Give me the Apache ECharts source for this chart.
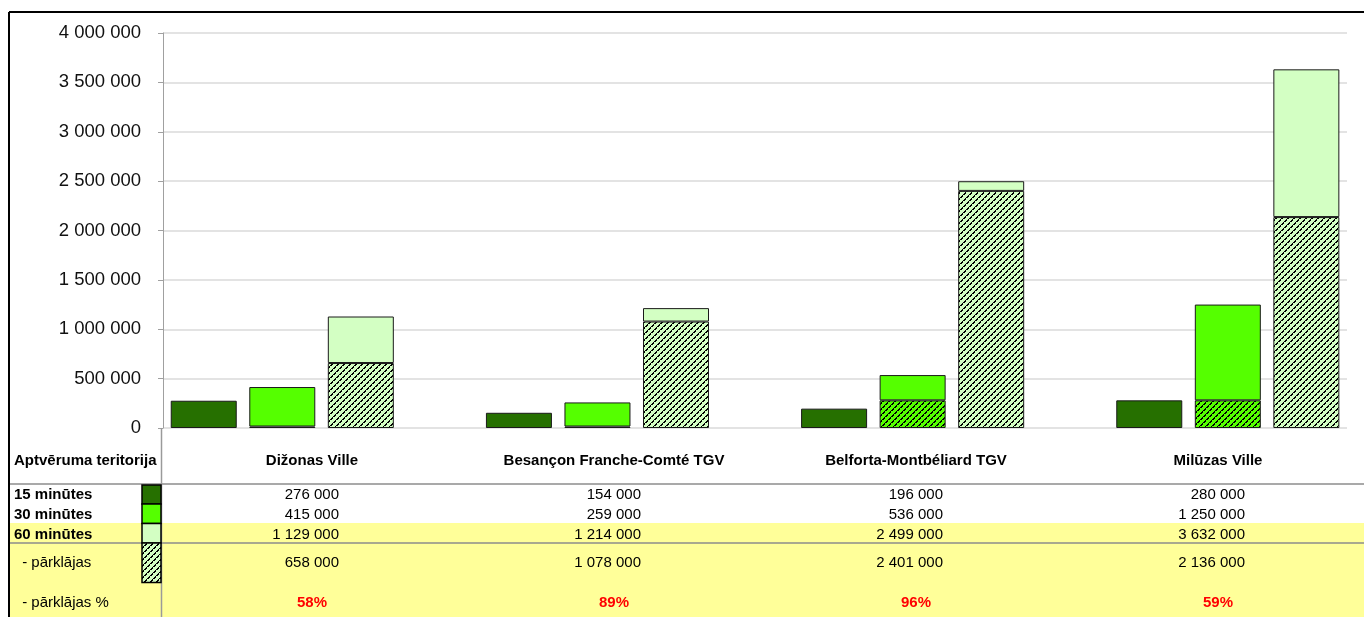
<!DOCTYPE html>
<html>
<head>
<meta charset="utf-8">
<script src="https://cdn.jsdelivr.net/npm/echarts@6/dist/echarts.min.js"></script>
<style>
  html, body { margin: 0; padding: 0; background: #fff; }
  #chart { width: 1364px; height: 617px; }
</style>
</head>
<body>
<div id="chart"></div>
<script>
// Catchment population per station
const categories = ['Dižonas Ville', 'Besançon Franche-Comté TGV', 'Belforta-Montbéliard TGV', 'Milūzas Ville'];
const min15 = [276000, 154000, 196000, 280000];
const min30 = [415000, 259000, 536000, 1250000];
const min60 = [1129000, 1214000, 2499000, 3632000];
const overlap60 = [658000, 1078000, 2401000, 2136000];
const overlap30 = [15000, 15000, 280000, 280000];
const rowLabels = ['15 minūtes', '30 minūtes', '60 minūtes', ' - pārklājas', ' - pārklājas %'];
const headerLabel = 'Aptvēruma teritorija';

const C15 = '#267000';
const C30 = '#55ff00';
const C60 = '#d3ffc3';
const FONT = '"Liberation Sans", Arial, sans-serif';

function fmt(n) {
  return String(n).replace(/\B(?=(\d{3})+(?!\d))/g, ' ');
}

// Diagonal dashed hatch tile over a base colour
function hatch(base) {
  const s = 6;
  const cv = document.createElement('canvas');
  cv.width = s; cv.height = s;
  const ctx = cv.getContext('2d');
  ctx.fillStyle = base;
  ctx.fillRect(0, 0, s, s);
  ctx.fillStyle = '#000';
  for (let i = 0; i < s; i++) {
    const y = s - 1 - i;
    ctx.fillRect(i, y, 1, 1);
    if (i % 3 !== 2) ctx.fillRect((i + 1) % s, y, 1, 1);
  }
  return { image: cv, repeat: 'repeat' };
}
const hatch30 = hatch(C30);
const hatch60 = hatch(C60);

const border = { borderColor: '#1a1a1a', borderWidth: 1 };

// Table under the plot
const colLeft = 161, colW = 302;
const rowY = [495, 515, 535, 563, 603];
const g = [];
g.push({ type: 'rect', shape: { x: 10, y: 523, width: 1354, height: 94 }, style: { fill: '#ffff99' }, z: 1 });
g.push({ type: 'line', shape: { x1: 10, y1: 484, x2: 1364, y2: 484 }, style: { stroke: '#8c8c8c', lineWidth: 1.5 }, z: 2 });
g.push({ type: 'line', shape: { x1: 10, y1: 543, x2: 1364, y2: 543 }, style: { stroke: '#8c8c8c', lineWidth: 1.5 }, z: 2 });
g.push({ type: 'line', shape: { x1: 161.5, y1: 428, x2: 161.5, y2: 617 }, style: { stroke: '#9a9a9a', lineWidth: 1.5 }, z: 2 });
// frame
g.push({ type: 'line', shape: { x1: 9, y1: 12, x2: 1364, y2: 12 }, style: { stroke: '#000', lineWidth: 2 }, z: 5 });
g.push({ type: 'line', shape: { x1: 9, y1: 12, x2: 9, y2: 617 }, style: { stroke: '#000', lineWidth: 2 }, z: 5 });

function txt(text, x, y, align, bold, color) {
  g.push({
    type: 'text', x: x, y: y, z: 6,
    style: {
      text: text, fill: color || '#000',
      font: (bold ? 'bold ' : '') + '15px ' + FONT,
      textAlign: align, textVerticalAlign: 'middle'
    }
  });
}
txt(headerLabel, 14, 461, 'left', true);
rowLabels.forEach(function (lab, r) {
  txt(lab, r < 3 ? 14 : 18, rowY[r], 'left', r < 3);
});
// legend swatches
const sw = [[C15, 485, 504], [C30, 504, 523.5], [C60, 523.5, 543], [hatch60, 543, 582.5]];
sw.forEach(function (s) {
  g.push({ type: 'rect', shape: { x: 142, y: s[1], width: 19, height: s[2] - s[1] },
    style: { fill: s[0], stroke: '#000', lineWidth: 1.5 }, z: 4 });
});
categories.forEach(function (cat, i) {
  const left = colLeft + colW * i;
  txt(cat, left + colW / 2, 461, 'center', true);
  const vals = [min15[i], min30[i], min60[i], overlap60[i]];
  vals.forEach(function (v, r) { txt(fmt(v), left + 178, rowY[r], 'right', false); });
  const pct = Math.round(overlap60[i] / min60[i] * 100) + '%';
  txt(pct, left + colW / 2, rowY[4], 'center', true, '#ff0000');
});

const chart = echarts.init(document.getElementById('chart'));
chart.setOption({
  animation: false,
  backgroundColor: '#fff',
  grid: [
    { left: 163, right: 17, top: 33, bottom: 189, outerBoundsMode: 'none' },
    { left: 124.7, width: 1260.7, top: 33, bottom: 189, outerBoundsMode: 'none', containLabel: false }
  ],
  xAxis: [
    { gridIndex: 0, type: 'category', data: categories, show: false },
    { gridIndex: 1, type: 'category', data: categories, show: false }
  ],
  yAxis: [
    {
      gridIndex: 0, type: 'value', min: 0, max: 4000000, interval: 500000,
      axisLine: { show: true, lineStyle: { color: '#a0a0a0', width: 1 } },
      axisTick: { show: true, length: 5, lineStyle: { color: '#a0a0a0' } },
      axisLabel: { color: '#111', fontSize: 18.5, fontFamily: FONT, margin: 22, formatter: fmt },
      splitLine: { lineStyle: { color: '#e3e3e3', width: 2 } }
    },
    { gridIndex: 1, type: 'value', min: 0, max: 4000000, show: false, splitLine: { show: false } }
  ],
  series: [
    { name: '15 minūtes', type: 'bar', xAxisIndex: 1, yAxisIndex: 1, stack: 'a', barWidth: 66, barGap: '19%',
      itemStyle: Object.assign({ color: C15 }, border), data: min15 },
    { name: '30 pārklājas', type: 'bar', xAxisIndex: 1, yAxisIndex: 1, stack: 'b', barWidth: 66, barGap: '19%',
      itemStyle: Object.assign({ color: hatch30 }, border), data: overlap30 },
    { name: '30 minūtes', type: 'bar', xAxisIndex: 1, yAxisIndex: 1, stack: 'b', barWidth: 66, barGap: '19%',
      itemStyle: Object.assign({ color: C30 }, border), data: min30.map(function (v, i) { return v - overlap30[i]; }) },
    { name: 'pārklājas', type: 'bar', xAxisIndex: 1, yAxisIndex: 1, stack: 'c', barWidth: 66, barGap: '19%',
      itemStyle: Object.assign({ color: hatch60 }, border), data: overlap60 },
    { name: '60 minūtes', type: 'bar', xAxisIndex: 1, yAxisIndex: 1, stack: 'c', barWidth: 66, barGap: '19%',
      itemStyle: Object.assign({ color: C60 }, border), data: min60.map(function (v, i) { return v - overlap60[i]; }) }
  ],
  graphic: g
});
</script>
</body>
</html>
